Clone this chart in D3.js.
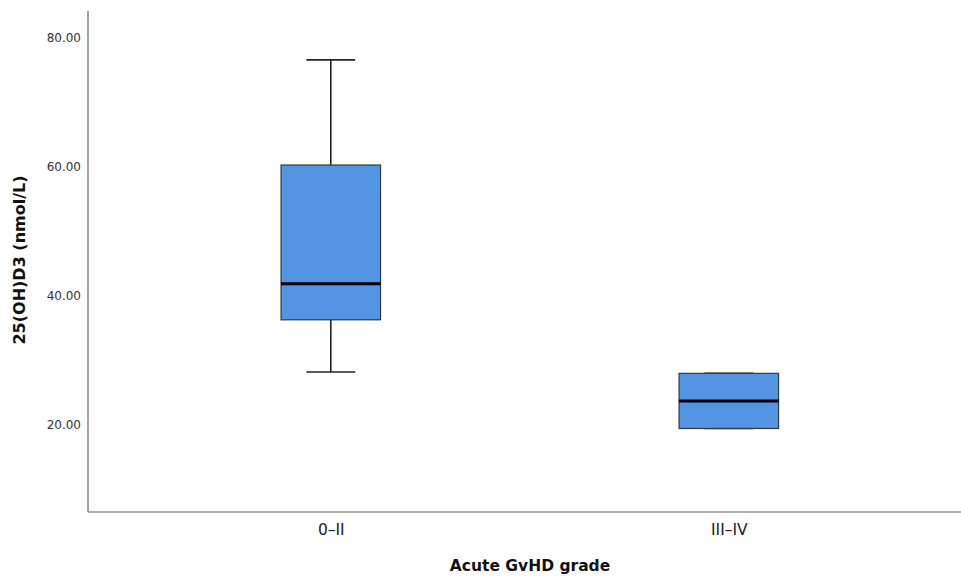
<!DOCTYPE html>
<html>
<head>
<meta charset="utf-8">
<script src="https://cdn.jsdelivr.net/npm/d3@7"></script>
<style>
  html, body { margin: 0; padding: 0; background: #fff; }
  svg { display: block; }
</style>
</head>
<body>
<svg id="chart" width="961" height="579"></svg>
<script>
// Box-plot summaries per acute GvHD grade
const categories = ["0–II", "III–IV"];
const whiskerLow  = [28.1, 19.35];
const q1          = [36.2, 19.35];
const median      = [41.8, 23.6];
const q3          = [60.2, 27.9];
const whiskerHigh = [76.5, 27.9];
const yTicks      = [20, 40, 60, 80];

const chartW = 961, chartH = 579;
const plotLeft = 88, plotTop = 11, plotBottom = 512;

const svg = d3.select("#chart");

const y = d3.scaleLinear().domain([6.4, 84.08]).range([plotBottom, plotTop]);
const x = d3.scalePoint().domain(categories).range([plotLeft, 971.6]).padding(0.61);
const boxW = x.step() * 0.25;
const capW = boxW * 0.49;

const data = categories.map((c, i) => ({
  cat: c, lo: whiskerLow[i], q1: q1[i], med: median[i], q3: q3[i], hi: whiskerHigh[i]
}));

// Y axis
const yAxis = svg.append("g")
  .attr("transform", `translate(${plotLeft},0)`)
  .call(d3.axisLeft(y).tickValues(yTicks).tickSize(0).tickPadding(7).tickFormat(d3.format(".2f")));
yAxis.select(".domain").remove();
yAxis.selectAll("text")
  .attr("font-family", "DejaVu Sans, sans-serif")
  .attr("font-size", 12)
  .attr("fill", "#333");
svg.append("line")
  .attr("x1", plotLeft).attr("x2", plotLeft).attr("y1", plotTop).attr("y2", plotBottom)
  .attr("stroke", "#666").attr("stroke-width", 1.2);

// X axis
const xAxis = svg.append("g")
  .attr("transform", `translate(0,${plotBottom})`)
  .call(d3.axisBottom(x).tickSize(0).tickPadding(12));
xAxis.select(".domain").remove();
xAxis.selectAll("text")
  .attr("font-family", "DejaVu Sans, sans-serif")
  .attr("font-size", 15.5)
  .attr("fill", "#222");
svg.append("line")
  .attr("x1", plotLeft).attr("x2", chartW).attr("y1", plotBottom).attr("y2", plotBottom)
  .attr("stroke", "#999").attr("stroke-width", 1.5);

// Whiskers, boxes and medians
const g = svg.append("g");
data.forEach(d => {
  const cx = x(d.cat);
  const stroke = "#222";
  g.append("line").attr("x1", cx).attr("x2", cx).attr("y1", y(d.hi)).attr("y2", y(d.q3))
    .attr("stroke", stroke).attr("stroke-width", 1.6);
  g.append("line").attr("x1", cx).attr("x2", cx).attr("y1", y(d.q1)).attr("y2", y(d.lo))
    .attr("stroke", stroke).attr("stroke-width", 1.6);
  g.append("line").attr("x1", cx - capW / 2).attr("x2", cx + capW / 2)
    .attr("y1", y(d.hi)).attr("y2", y(d.hi)).attr("stroke", stroke).attr("stroke-width", 1.6);
  g.append("line").attr("x1", cx - capW / 2).attr("x2", cx + capW / 2)
    .attr("y1", y(d.lo)).attr("y2", y(d.lo)).attr("stroke", stroke).attr("stroke-width", 1.6);
  g.append("rect")
    .attr("x", cx - boxW / 2).attr("width", boxW)
    .attr("y", y(d.q3)).attr("height", y(d.q1) - y(d.q3))
    .attr("fill", "#5394e3").attr("stroke", "#2f3a48").attr("stroke-width", 1.2);
  g.append("line").attr("x1", cx - boxW / 2).attr("x2", cx + boxW / 2)
    .attr("y1", y(d.med)).attr("y2", y(d.med))
    .attr("stroke", "#000").attr("stroke-width", 3);
});

// Axis titles
svg.append("text")
  .attr("x", 530).attr("y", 571)
  .attr("text-anchor", "middle")
  .attr("font-family", "DejaVu Sans, sans-serif")
  .attr("font-weight", "bold").attr("font-size", 15.5)
  .attr("fill", "#111")
  .text("Acute GvHD grade");

svg.append("text")
  .attr("transform", "translate(25,260) rotate(-90)")
  .attr("text-anchor", "middle")
  .attr("font-family", "DejaVu Sans, sans-serif")
  .attr("font-weight", "bold").attr("font-size", 16)
  .attr("fill", "#111")
  .text("25(OH)D3 (nmol/L)");
</script>
</body>
</html>
